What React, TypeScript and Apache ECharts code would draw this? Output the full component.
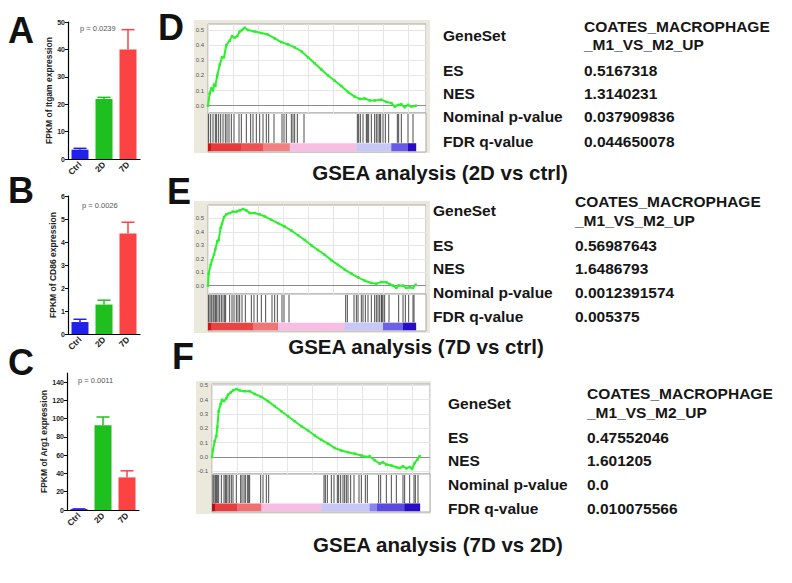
import React, { useEffect, useRef } from 'react';
import * as echarts from 'echarts';

// ---------- Bar charts (A, B, C) ----------
const groups = ['Ctrl', '2D', '7D'];
const itgamMean = [3.4, 21.9, 40.0];
const itgamErr = [3.9, 22.5, 47.2];
const cd86Mean = [0.52, 1.28, 4.37];
const cd86Err = [0.64, 1.47, 4.86];
const arg1Mean = [1.0, 92.7, 35.7];
const arg1Err = [1.2, 101.8, 42.9];
const barColors = ['#2020ec', '#1ebf1e', '#fb4343'];
const pValues = ['p = 0.0239', 'p = 0.0026', 'p = 0.0011'];
const yNames = ['FPKM of Itgam expression', 'FPKM of CD86 expression', 'FPKM of Arg1 expression'];
const arg1Ticks = [0, 20, 40, 60, 80, 100, 120, 140];

// ---------- GSEA running enrichment scores (rank, ES) ----------
const esD = [
  [0, 0], [170, 0.08], [330, 0.115], [500, 0.1], [600, 0.14], [730, 0.13], [930, 0.2], [1170, 0.27],
  [1400, 0.32], [1600, 0.32], [1830, 0.4], [2170, 0.43], [2400, 0.46], [2670, 0.45], [2930, 0.46],
  [3170, 0.49], [3400, 0.5], [3670, 0.515], [4000, 0.5], [4670, 0.49], [5330, 0.48], [6000, 0.47],
  [6670, 0.445], [7330, 0.42], [8000, 0.405], [8670, 0.385], [9330, 0.36], [10000, 0.32], [10670, 0.28],
  [11330, 0.24], [12000, 0.2], [12670, 0.165], [13330, 0.13], [14000, 0.09], [14670, 0.06], [15170, 0.045],
  [15670, 0.048], [16170, 0.035], [16670, 0.035], [17330, 0.04], [17830, 0.025], [18330, 0.018],
  [18670, -0.005], [19000, 0.005], [19330, 0.01], [19670, -0.01], [20000, 0.006], [20330, -0.005], [20770, 0],
];
const esE = [
  [0, 0], [67, 0.09], [267, 0.155], [400, 0.19], [600, 0.23], [733, 0.27], [933, 0.33], [1067, 0.34],
  [1267, 0.43], [1400, 0.46], [1600, 0.51], [1833, 0.53], [2167, 0.54], [2500, 0.55], [2833, 0.55],
  [3167, 0.56], [3500, 0.57], [3833, 0.56], [4167, 0.54], [4667, 0.54], [5167, 0.53], [5667, 0.515],
  [6333, 0.49], [7000, 0.465], [7667, 0.44], [8333, 0.41], [9000, 0.375], [9667, 0.34], [10333, 0.3],
  [11000, 0.265], [11667, 0.23], [12333, 0.19], [13000, 0.155], [13667, 0.12], [14333, 0.09], [15000, 0.062],
  [15667, 0.037], [16333, 0.02], [16833, 0.015], [17333, 0.027], [17833, 0.025], [18167, 0.012], [18500, 0],
  [18833, -0.017], [19067, 0.002], [19500, 0], [19833, -0.017], [20167, -0.012], [20500, -0.017], [20767, 0.007],
];
const esF = [
  [0, 0], [100, 0.05], [267, 0.11], [433, 0.145], [533, 0.21], [667, 0.32], [867, 0.37], [1000, 0.4],
  [1200, 0.39], [1433, 0.41], [1600, 0.435], [1867, 0.45], [2100, 0.465], [2433, 0.475], [2767, 0.465],
  [3267, 0.46], [3767, 0.46], [4267, 0.44], [4933, 0.42], [5600, 0.39], [6267, 0.355], [6933, 0.32],
  [7600, 0.285], [8267, 0.25], [8933, 0.215], [9600, 0.185], [10267, 0.15], [10933, 0.12], [11600, 0.093],
  [12267, 0.063], [12933, 0.045], [13600, 0.033], [14267, 0.023], [14933, 0.01], [15433, 0], [15767, 0.005],
  [16267, -0.023], [16767, -0.047], [17100, -0.037], [17433, -0.053], [17933, -0.06], [18433, -0.072],
  [18767, -0.077], [19100, -0.065], [19433, -0.08], [19767, -0.07], [20000, -0.084], [20267, -0.042],
  [20533, -0.019], [20767, 0.005],
];

// ---------- Gene set hit ranks ----------
const hitsD = [67, 267, 500, 733, 867, 1067, 1267, 1500, 1733, 1900, 2100, 2333, 2600, 3100, 3333, 3833,
  4267, 4500, 4833, 5167, 5500, 5833, 6067, 6600, 7400, 7600, 7833, 8333, 8500, 8667, 8933, 9600,
  14933, 15067, 15233, 15500, 15833, 15933, 16067, 16333, 16667, 16833, 17000, 17167, 17267, 17500,
  17733, 18067, 18933, 19067, 19333, 20000, 20500];
const hitsE = [67, 200, 333, 500, 600, 733, 833, 1000, 1167, 1333, 1500, 1667, 1767, 2167, 2400, 2600,
  2833, 3000, 3167, 3400, 3733, 4333, 4600, 4933, 5333, 5767, 6400, 6667, 6933, 7400, 7600, 8100,
  13767, 13933, 14600, 14833, 15000, 15333, 15500, 15733, 16000, 16333, 16667, 16833, 17000, 17167,
  17333, 17400, 17500, 17667, 18100, 19067, 19500, 19733, 20067, 20500, 20600];
const hitsF = [100, 200, 333, 433, 533, 667, 933, 1200, 1333, 1433, 1600, 1767, 1933, 2100, 2433, 2867,
  3000, 3200, 3333, 3533, 3667, 3767, 4867, 5100, 5433, 5667, 11200, 11333, 11533, 11933, 12200, 12533,
  12667, 12867, 13100, 13267, 13433, 13600, 13867, 14200, 14700, 14933, 15333, 15533, 16667, 16867,
  17433, 17933, 18433, 19100, 19267, 19767, 20200, 20333, 20600];

// ---------- Ranked list colour bar segments [start, end] + colours ----------
const barSegD = [[0, 330], [330, 3300], [3300, 5500], [5500, 8170], [8170, 14830], [14830, 18330], [18330, 20000], [20000, 20770]];
const barColD = ['#c81818', '#e63a3a', '#ec5252', '#f28080', '#f8bde2', '#c8c8f6', '#6a5ae6', '#2a0cc6'];
const barSegE = [[0, 330], [330, 4500], [4500, 7000], [7000, 13667], [13667, 17500], [17500, 19500], [19500, 20767]];
const barColE = ['#c81818', '#e84444', '#f07676', '#f8bde2', '#c8c8f8', '#6c62e8', '#2a0cc6'];
const barSegF = [[0, 330], [330, 2500], [2500, 4933], [4933, 10933], [10933, 15767], [15767, 16500], [16500, 19267], [19267, 20767]];
const barColF = ['#b81010', '#e43e3e', '#f07070', '#f8bde2', '#c8c8f8', '#8a84ee', '#5a4ae0', '#2a0cc6'];

// ---------- Statistics tables ----------
const tableLabels = ['GeneSet', 'ES', 'NES', 'Nominal p-value', 'FDR q-value'];
const geneSetLine1 = 'COATES_MACROPHAGE';
const geneSetLine2 = '_M1_VS_M2_UP';
const statsD = ['0.5167318', '1.3140231', '0.037909836', '0.044650078'];
const statsE = ['0.56987643', '1.6486793', '0.0012391574', '0.005375'];
const statsF = ['0.47552046', '1.601205', '0.0', '0.010075566'];
const gseaTitles = ['GSEA analysis (2D vs ctrl)', 'GSEA analysis (7D vs ctrl)', 'GSEA analysis (7D vs 2D)'];
const esTicks = [0, 0.1, 0.2, 0.3, 0.4, 0.5];
const esTicksF = [-0.1, 0, 0.1, 0.2, 0.3, 0.4, 0.5];

const FONT = 'Liberation Sans, Arial, sans-serif';

export default function App() {
  const ref = useRef<HTMLDivElement>(null);
  useEffect(() => {
    if (!ref.current) return;
    const chart = echarts.init(ref.current, undefined, { renderer: 'svg' });

    const grids: any[] = [];
    const xAxes: any[] = [];
    const yAxes: any[] = [];
    const series: any[] = [];
    const graphics: any[] = [];

    // ----- bar panels -----
    const barPanels = [
      { mean: itgamMean, err: itgamErr, max: 50, interval: 10, ticks: null as any, left: 68, top: 22, height: 137, gap: 14 },
      { mean: cd86Mean, err: cd86Err, max: 6, interval: 1, ticks: null as any, left: 68, top: 196, height: 138, gap: 11 },
      { mean: arg1Mean, err: arg1Err, max: 150, interval: 20, ticks: arg1Ticks, left: 67, top: 373, height: 137, gap: 19 },
    ];
    barPanels.forEach((p, i) => {
      const gi = grids.length;
      grids.push({ left: p.left, top: p.top, width: 72, height: p.height, containLabel: false });
      xAxes.push({
        type: 'category', gridIndex: gi, data: groups,
        axisLine: { lineStyle: { color: '#000', width: 1.2 } },
        axisTick: { show: false },
        axisLabel: { rotate: 45, fontSize: 8.5, fontWeight: 'bold', color: '#222', margin: 4, fontFamily: FONT },
      });
      const yAxis: any = {
        type: 'value', gridIndex: gi, min: 0, max: p.max, interval: p.interval,
        name: yNames[i], nameLocation: 'middle', nameRotate: 90, nameGap: p.gap,
        nameTextStyle: { fontSize: 8.5, fontWeight: 'bold', color: '#222', fontFamily: FONT },
        axisLine: { show: true, lineStyle: { color: '#000', width: 1.2 } },
        axisTick: { show: true, length: 3, lineStyle: { color: '#000' } },
        axisLabel: { fontSize: 7, fontWeight: 'bold', color: '#222', margin: 3, fontFamily: FONT },
        splitLine: { show: false },
      };
      if (p.ticks) {
        yAxis.axisLabel.customValues = p.ticks;
        yAxis.axisTick.customValues = p.ticks;
      }
      yAxes.push(yAxis);
      series.push({
        type: 'bar', xAxisIndex: gi, yAxisIndex: gi, barWidth: 17,
        data: p.mean.map((v, k) => ({ value: v, itemStyle: { color: barColors[k] } })),
        z: 2,
      });
      series.push({
        type: 'custom', xAxisIndex: gi, yAxisIndex: gi, z: 3,
        data: p.mean.map((v, k) => [k, v, p.err[k]]),
        encode: { x: 0, y: [1, 2] },
        renderItem: (params: any, api: any) => {
          const k = api.value(0);
          const base = api.coord([k, api.value(1)]);
          const top = api.coord([k, api.value(2)]);
          const c = barColors[params.dataIndex];
          return {
            type: 'group',
            children: [
              { type: 'line', shape: { x1: base[0], y1: base[1], x2: top[0], y2: top[1] }, style: { stroke: c, lineWidth: 1.5 } },
              { type: 'line', shape: { x1: top[0] - 6.5, y1: top[1], x2: top[0] + 6.5, y2: top[1] }, style: { stroke: c, lineWidth: 1.5 } },
            ],
          };
        },
      });
    });

    // ----- GSEA panels -----
    const gseaPanels = [
      { es: esD, hits: hitsD, seg: barSegD, col: barColD, ymin: -0.048, ymax: 0.54, ticks: esTicks,
        left: 208, top: 24, esH: 89, lowH: 39, box: [194, 20, 236, 133] },
      { es: esE, hits: hitsE, seg: barSegE, col: barColE, ymin: -0.062, ymax: 0.6, ticks: esTicks,
        left: 208, top: 205, esH: 89, lowH: 37, box: [194, 201, 236, 132] },
      { es: esF, hits: hitsF, seg: barSegF, col: barColF, ymin: -0.119, ymax: 0.51, ticks: esTicksF,
        left: 212, top: 384, esH: 90, lowH: 38, box: [196, 381, 235, 133] },
    ];
    gseaPanels.forEach((p) => {
      graphics.push({
        type: 'rect', z: -10, shape: { x: p.box[0], y: p.box[1], width: p.box[2], height: p.box[3] },
        style: { fill: '#ebe9dc' },
      });
      // enrichment score grid
      const gi = grids.length;
      grids.push({ left: p.left, top: p.top, width: 218, height: p.esH, show: true, backgroundColor: '#ffffff', borderColor: '#a8a8a8', borderWidth: 1 });
      xAxes.push({
        type: 'value', gridIndex: gi, min: 0, max: 21800, interval: 2500,
        axisLine: { show: false }, axisTick: { show: false }, axisLabel: { show: false },
        splitLine: { show: true, lineStyle: { color: '#e6e6e6', width: 1 } },
      });
      yAxes.push({
        type: 'value', gridIndex: gi, min: p.ymin, max: p.ymax,
        axisLine: { show: false }, axisTick: { show: false },
        axisLabel: { customValues: p.ticks, formatter: (v: number) => v.toFixed(1), fontSize: 6, color: '#555', margin: 4, fontFamily: FONT },
        splitLine: { show: false },
      });
      series.push({
        type: 'line', xAxisIndex: gi, yAxisIndex: gi, data: p.es, showSymbol: true, symbol: 'rect', symbolSize: 2.5,
        itemStyle: { color: '#2cf02c' },
        lineStyle: { color: '#2cf02c', width: 2 }, z: 4,
        markLine: {
          silent: true, symbol: 'none', z: 1, animation: false,
          label: { show: false },
          lineStyle: { color: '#e6e6e6', width: 1, type: 'solid' },
          data: p.ticks.filter((t) => t !== 0).map((t) => ({ yAxis: t }))
            .concat([{ yAxis: 0, lineStyle: { color: '#8c8c8c', width: 1, type: 'solid' } } as any]),
        },
      });
      // hits + ranked list colour bar grid
      const gj = grids.length;
      grids.push({ left: p.left, top: p.top + p.esH, width: 218, height: p.lowH, show: true, backgroundColor: '#ffffff', borderColor: '#a8a8a8', borderWidth: 1 });
      xAxes.push({
        type: 'value', gridIndex: gj, min: 0, max: 21800,
        axisLine: { show: false }, axisTick: { show: false }, axisLabel: { show: false }, splitLine: { show: false },
      });
      yAxes.push({
        type: 'value', gridIndex: gj, min: 0, max: 1,
        axisLine: { show: false }, axisTick: { show: false }, axisLabel: { show: false }, splitLine: { show: false },
      });
      series.push({
        type: 'custom', xAxisIndex: gj, yAxisIndex: gj, z: 3,
        data: p.hits.map((h) => [h, 1]),
        encode: { x: 0, y: 1 },
        renderItem: (_params: any, api: any) => {
          const a = api.coord([api.value(0), 0.235]);
          const b = api.coord([api.value(0), 0.975]);
          return { type: 'line', shape: { x1: a[0], y1: a[1], x2: b[0], y2: b[1] }, style: { stroke: '#1a1a1a', lineWidth: 1, opacity: 0.78 } };
        },
      });
      series.push({
        type: 'custom', xAxisIndex: gj, yAxisIndex: gj, z: 2,
        data: p.seg.map((s) => [s[0], s[1]]),
        encode: { x: [0, 1] },
        renderItem: (params: any, api: any) => {
          const a = api.coord([api.value(0), 0.02]);
          const b = api.coord([api.value(1), 0.225]);
          return { type: 'rect', shape: { x: a[0], y: b[1], width: b[0] - a[0] + 0.5, height: a[1] - b[1] }, style: { fill: p.col[params.dataIndex] } };
        },
      });
    });

    // ----- texts -----
    const letter = (t: string, x: number, y: number) => graphics.push({
      type: 'text', z: 10, x, y,
      style: { text: t, fontSize: 36, fontWeight: 'bold', fontFamily: FONT, fill: '#111', textVerticalAlign: 'middle', verticalAlign: 'middle' },
    });
    letter('A', 8, 30); letter('B', 8, 190); letter('C', 8, 362);
    letter('D', 158, 27); letter('E', 167, 191); letter('F', 172, 356);

    const pPos = [[80, 28], [82, 205], [78, 380]];
    pValues.forEach((t, i) => graphics.push({
      type: 'text', z: 10, x: pPos[i][0], y: pPos[i][1],
      style: { text: t, fontSize: 7.5, fontFamily: FONT, fill: '#555', verticalAlign: 'middle' },
    }));

    const tables = [
      { stats: statsD, lx: 443, vx: 584, rows: [35, 70, 93, 116.5, 141], g1: 26.5, g2: 44.5, title: [440, 172] },
      { stats: statsE, lx: 433, vx: 575, rows: [210, 245, 268.5, 292, 316], g1: 201.5, g2: 220, title: [416, 346] },
      { stats: statsF, lx: 448, vx: 587, rows: [403.5, 437, 460, 484, 508], g1: 393.5, g2: 412, title: [438, 544] },
    ];
    const txt = (t: string, x: number, y: number, size = 15.5, align = 'left') => graphics.push({
      type: 'text', z: 10, x, y,
      style: { text: t, fontSize: size, fontWeight: 'bold', fontFamily: FONT, fill: '#161616', align, verticalAlign: 'middle' },
    });
    tables.forEach((tb, i) => {
      tableLabels.forEach((l, k) => txt(l, tb.lx, tb.rows[k]));
      txt(geneSetLine1, tb.vx, tb.g1);
      txt(geneSetLine2, tb.vx, tb.g2);
      tb.stats.forEach((s, k) => txt(s, tb.vx, tb.rows[k + 1]));
      txt(gseaTitles[i], tb.title[0], tb.title[1], 20.5, 'center');
    });

    chart.setOption({
      animation: false,
      backgroundColor: '#ffffff',
      grid: grids,
      xAxis: xAxes,
      yAxis: yAxes,
      series,
      graphic: graphics,
    });
    return () => chart.dispose();
  }, []);
  return <div ref={ref} style={{ position: 'absolute', left: 0, top: 0, width: 792, height: 583 }} />;
}
